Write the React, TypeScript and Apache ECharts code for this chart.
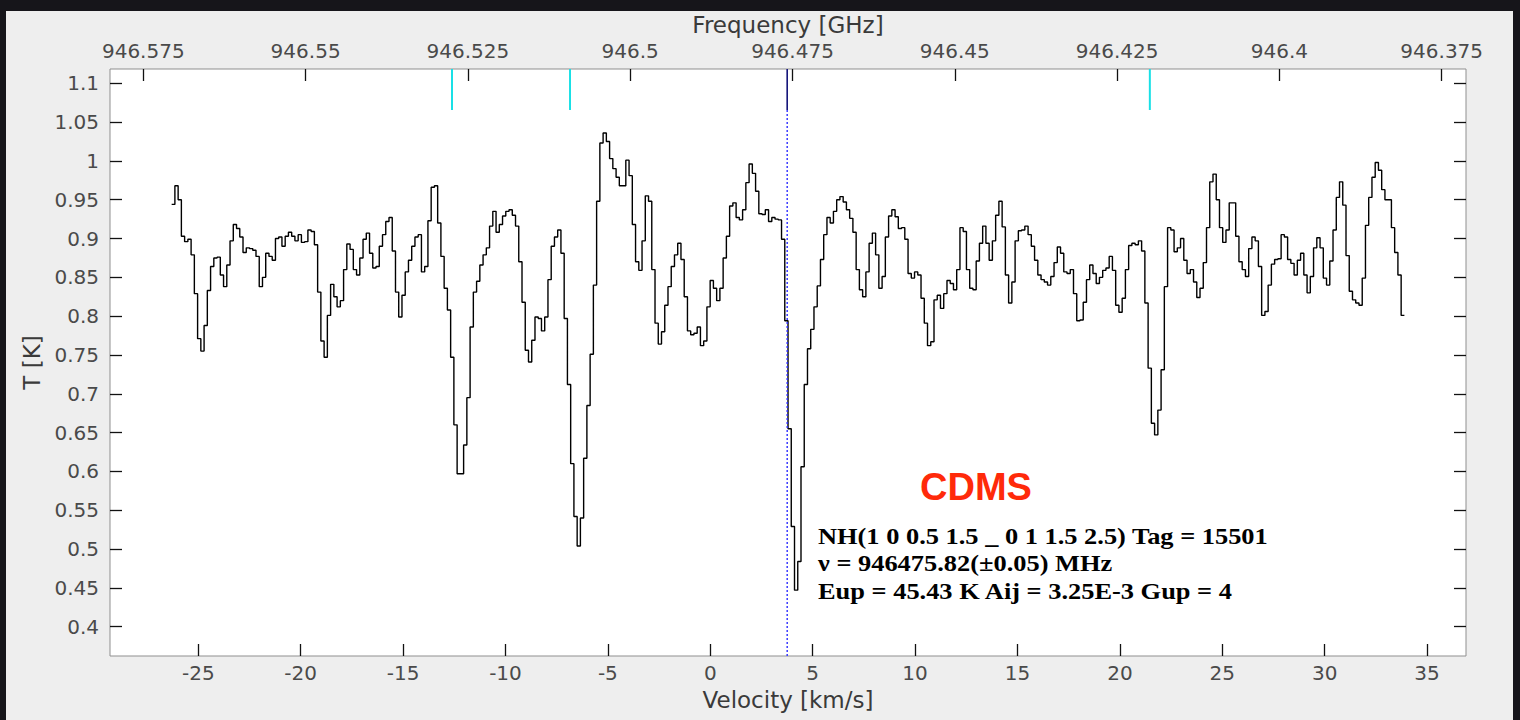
import React, { useEffect, useRef } from "react";
import * as echarts from "echarts";

// ---- Data ----
const V_START = -26.3; // km/s, left edge of the first channel
const CHANNEL_WIDTH = 0.1584; // km/s per channel

const T_VALUES = [
  // -26.3 .. -18.1 km/s
  0.944, 0.968, 0.95, 0.903, 0.896, 0.899, 0.879, 0.829, 0.771, 0.755,
  0.788, 0.833, 0.864, 0.875, 0.876, 0.853, 0.838, 0.866, 0.897, 0.918,
  0.913, 0.902, 0.882, 0.888, 0.887, 0.885, 0.877, 0.838, 0.85, 0.881,
  0.877, 0.872, 0.9, 0.902, 0.89, 0.903, 0.908, 0.903, 0.897, 0.905,
  0.895, 0.896, 0.911, 0.909, 0.892, 0.831, 0.768, 0.747, 0.801, 0.841,
  0.825, 0.812,
  // -18.1 .. -9.5 km/s
  0.82, 0.86, 0.893, 0.886, 0.86, 0.853, 0.875, 0.899, 0.907, 0.881,
  0.862, 0.864, 0.89, 0.905, 0.922, 0.927, 0.884, 0.831, 0.799, 0.827,
  0.857, 0.872, 0.89, 0.902, 0.905, 0.857, 0.864, 0.923, 0.966, 0.968,
  0.92, 0.877, 0.836, 0.808, 0.747, 0.66, 0.597, 0.597, 0.634, 0.695,
  0.786, 0.831, 0.845, 0.866, 0.879, 0.888, 0.916, 0.935, 0.908, 0.918,
  0.929, 0.935, 0.937, 0.93,
  // -9.5 .. -0.9 km/s
  0.916, 0.87, 0.818, 0.756, 0.741, 0.769, 0.799, 0.797, 0.781, 0.799,
  0.847, 0.89, 0.902, 0.911, 0.881, 0.797, 0.712, 0.61, 0.542, 0.504,
  0.54, 0.617, 0.685, 0.751, 0.84, 0.948, 1.023, 1.036, 1.025, 1.003,
  0.99, 0.979, 0.968, 0.968, 1.001, 0.981, 0.918, 0.87, 0.859, 0.897,
  0.955, 0.948, 0.86, 0.791, 0.764, 0.78, 0.814, 0.838, 0.864, 0.879,
  0.894, 0.873, 0.825, 0.781,
  // -0.9 .. 7.6 km/s
  0.776, 0.778, 0.786, 0.762, 0.768, 0.812, 0.846, 0.836, 0.82, 0.836,
  0.875, 0.903, 0.942, 0.946, 0.927, 0.924, 0.937, 0.972, 0.996, 0.984,
  0.961, 0.932, 0.931, 0.937, 0.922, 0.927, 0.925, 0.924, 0.899, 0.794,
  0.655, 0.529, 0.447, 0.484, 0.606, 0.712, 0.758, 0.783, 0.812, 0.839,
  0.873, 0.905, 0.927, 0.92, 0.935, 0.95, 0.954, 0.947, 0.937, 0.926,
  0.908, 0.86, 0.834, 0.825,
  // 7.6 .. 16.1 km/s
  0.857, 0.894, 0.907, 0.879, 0.836, 0.851, 0.902, 0.929, 0.937, 0.928,
  0.913, 0.914, 0.899, 0.855, 0.849, 0.857, 0.853, 0.823, 0.791, 0.762,
  0.767, 0.821, 0.827, 0.81, 0.829, 0.846, 0.842, 0.834, 0.86, 0.914,
  0.909, 0.86, 0.836, 0.834, 0.871, 0.894, 0.916, 0.894, 0.872, 0.897,
  0.93, 0.948, 0.915, 0.853, 0.817, 0.844, 0.897, 0.91, 0.911, 0.916,
  0.905, 0.89, 0.872, 0.853,
  // 16.1 .. 24.7 km/s
  0.847, 0.844, 0.84, 0.851, 0.869, 0.889, 0.881, 0.857, 0.855, 0.86,
  0.829, 0.794, 0.795, 0.818, 0.847, 0.866, 0.855, 0.842, 0.85, 0.859,
  0.862, 0.877, 0.859, 0.814, 0.805, 0.823, 0.86, 0.891, 0.894, 0.892,
  0.897, 0.884, 0.817, 0.733, 0.662, 0.647, 0.679, 0.731, 0.838, 0.914,
  0.911, 0.883, 0.888, 0.9, 0.872, 0.855, 0.86, 0.844, 0.824, 0.836,
  0.869, 0.914, 0.973, 0.983,
  // 24.7 .. 33.9 km/s
  0.95, 0.914, 0.895, 0.911, 0.946, 0.946, 0.903, 0.87, 0.86, 0.851,
  0.887, 0.902, 0.897, 0.864, 0.801, 0.806, 0.84, 0.867, 0.873, 0.874,
  0.905, 0.902, 0.873, 0.868, 0.853, 0.872, 0.881, 0.853, 0.83, 0.851,
  0.888, 0.901, 0.888, 0.849, 0.84, 0.871, 0.911, 0.953, 0.973, 0.943,
  0.878, 0.832, 0.821, 0.817, 0.814, 0.849, 0.917, 0.953, 0.979, 0.998,
  0.988, 0.963, 0.95, 0.95, 0.914, 0.882, 0.853, 0.801, 0.801,
];

const VELOCITY_TICKS = [-25, -20, -15, -10, -5, 0, 5, 10, 15, 20, 25, 30, 35];
const FREQ_TICKS = [946.575, 946.55, 946.525, 946.5, 946.475, 946.45, 946.425, 946.4, 946.375];
const T_TICKS = [0.4, 0.45, 0.5, 0.55, 0.6, 0.65, 0.7, 0.75, 0.8, 0.85, 0.9, 0.95, 1, 1.05, 1.1];

const V_RANGE = [-29.31, 36.9];
const F_RANGE = [946.37126, 946.58013];
const T_RANGE = [0.3622, 1.1184];

const CATALOG_LINES_GHZ = [946.52745, 946.50927, 946.41996];
const SELECTED_LINE_GHZ = 946.47582;
const MARKER_BOTTOM_T = 1.0656;

const INFO_LINES = [
  "NH(1 0 0.5 1.5 _ 0 1 1.5 2.5) Tag = 15501",
  "\u03bd = 946475.82(\u00b10.05) MHz",
  "Eup = 45.43 K Aij = 3.25E-3 Gup = 4",
];

export default function App() {
  const ref = useRef<HTMLDivElement>(null);

  useEffect(() => {
    if (!ref.current) return;
    const chart = echarts.init(ref.current, undefined, { renderer: "svg" });

    const labelFont = {
      color: "#4a4a4a",
      fontSize: 20,
      fontFamily: "DejaVu Sans",
    };
    const nameFont = {
      color: "#3a3a3a",
      fontSize: 23,
      fontFamily: "DejaVu Sans",
    };
    const tick = (values: number[]) => ({
      show: true,
      inside: true,
      length: 12,
      customValues: values,
      lineStyle: { color: "#111", width: 1.3 },
    });
    const noLine = { show: false, onZero: false };

    const spectrum = T_VALUES.map((t, i) => [V_START + i * CHANNEL_WIDTH, t]);

    const markerSeries = CATALOG_LINES_GHZ.map((f) => ({
      type: "line",
      xAxisIndex: 1,
      yAxisIndex: 0,
      showSymbol: false,
      silent: true,
      lineStyle: { color: "#19e0e6", width: 2 },
      data: [
        [f, T_RANGE[1]],
        [f, MARKER_BOTTOM_T],
      ],
    }));

    chart.setOption({
      animation: false,
      grid: {
        left: 110,
        top: 69,
        width: 1356,
        height: 587,
        show: true,
        backgroundColor: "#ffffff",
        borderColor: "#8f8f8f",
        borderWidth: 1,
      },
      xAxis: [
        {
          type: "value",
          position: "bottom",
          min: V_RANGE[0],
          max: V_RANGE[1],
          axisLine: noLine,
          splitLine: { show: false },
          axisTick: tick(VELOCITY_TICKS),
          axisLabel: {
            ...labelFont,
            margin: 7,
            customValues: VELOCITY_TICKS,
            formatter: (v: number) => String(v),
          },
          name: "Velocity [km/s]",
          nameLocation: "middle",
          nameGap: 32,
          nameTextStyle: nameFont,
        },
        {
          type: "value",
          position: "top",
          inverse: true,
          min: F_RANGE[0],
          max: F_RANGE[1],
          axisLine: noLine,
          splitLine: { show: false },
          axisTick: tick(FREQ_TICKS),
          axisLabel: {
            ...labelFont,
            margin: 8,
            customValues: FREQ_TICKS,
            formatter: (v: number) => String(Number(v.toFixed(3))),
          },
          name: "Frequency [GHz]",
          nameLocation: "middle",
          nameGap: 33,
          nameTextStyle: nameFont,
        },
      ],
      yAxis: [
        {
          type: "value",
          position: "left",
          min: T_RANGE[0],
          max: T_RANGE[1],
          axisLine: noLine,
          splitLine: { show: false },
          axisTick: tick(T_TICKS),
          axisLabel: {
            ...labelFont,
            margin: 11,
            customValues: T_TICKS,
            formatter: (v: number) => String(Number(v.toFixed(2))),
          },
          name: "T [K]",
          nameLocation: "middle",
          nameGap: 61,
          nameTextStyle: nameFont,
        },
        {
          type: "value",
          position: "right",
          min: T_RANGE[0],
          max: T_RANGE[1],
          axisLine: noLine,
          splitLine: { show: false },
          axisTick: tick(T_TICKS),
          axisLabel: { show: false },
        },
      ],
      series: [
        {
          type: "line",
          name: "spectrum",
          xAxisIndex: 0,
          yAxisIndex: 0,
          step: "end",
          showSymbol: false,
          silent: true,
          lineStyle: { color: "#000000", width: 1.4 },
          data: spectrum,
        },
        {
          type: "line",
          xAxisIndex: 1,
          yAxisIndex: 0,
          showSymbol: false,
          silent: true,
          lineStyle: { color: "#2b2bff", width: 1.4, type: [2, 2] },
          data: [
            [SELECTED_LINE_GHZ, T_RANGE[0]],
            [SELECTED_LINE_GHZ, MARKER_BOTTOM_T],
          ],
        },
        {
          type: "line",
          xAxisIndex: 1,
          yAxisIndex: 0,
          showSymbol: false,
          silent: true,
          lineStyle: { color: "#14147a", width: 1.6 },
          data: [
            [SELECTED_LINE_GHZ, T_RANGE[1]],
            [SELECTED_LINE_GHZ, MARKER_BOTTOM_T],
          ],
        },
        ...markerSeries,
      ],
      graphic: [
        {
          type: "text",
          x: 976,
          y: 487,
          style: {
            text: "CDMS",
            fill: "#ff2a0a",
            font: "bold 38px 'Liberation Sans', Arial, sans-serif",
            align: "center",
            verticalAlign: "middle",
          },
        },
        ...INFO_LINES.map((t, i) => ({
          type: "text",
          x: 818,
          y: 536 + i * 27.3,
          scaleX: 1.1,
          style: {
            text: t,
            fill: "#000000",
            font: "bold 24px 'Liberation Serif', 'Times New Roman', serif",
            align: "left",
            verticalAlign: "middle",
          },
        })),
      ],
    });

    return () => chart.dispose();
  }, []);

  return (
    <div
      style={{
        position: "fixed",
        left: 0,
        top: 0,
        width: 1520,
        height: 720,
        background: "#16151a",
        overflow: "hidden",
      }}
    >
      <div
        style={{
          position: "absolute",
          left: 6,
          top: 11,
          width: 1507,
          height: 709,
          background: "#eeeeee",
        }}
      />
      <div
        ref={ref}
        style={{ position: "absolute", left: 0, top: 0, width: 1520, height: 720 }}
      />
    </div>
  );
}
